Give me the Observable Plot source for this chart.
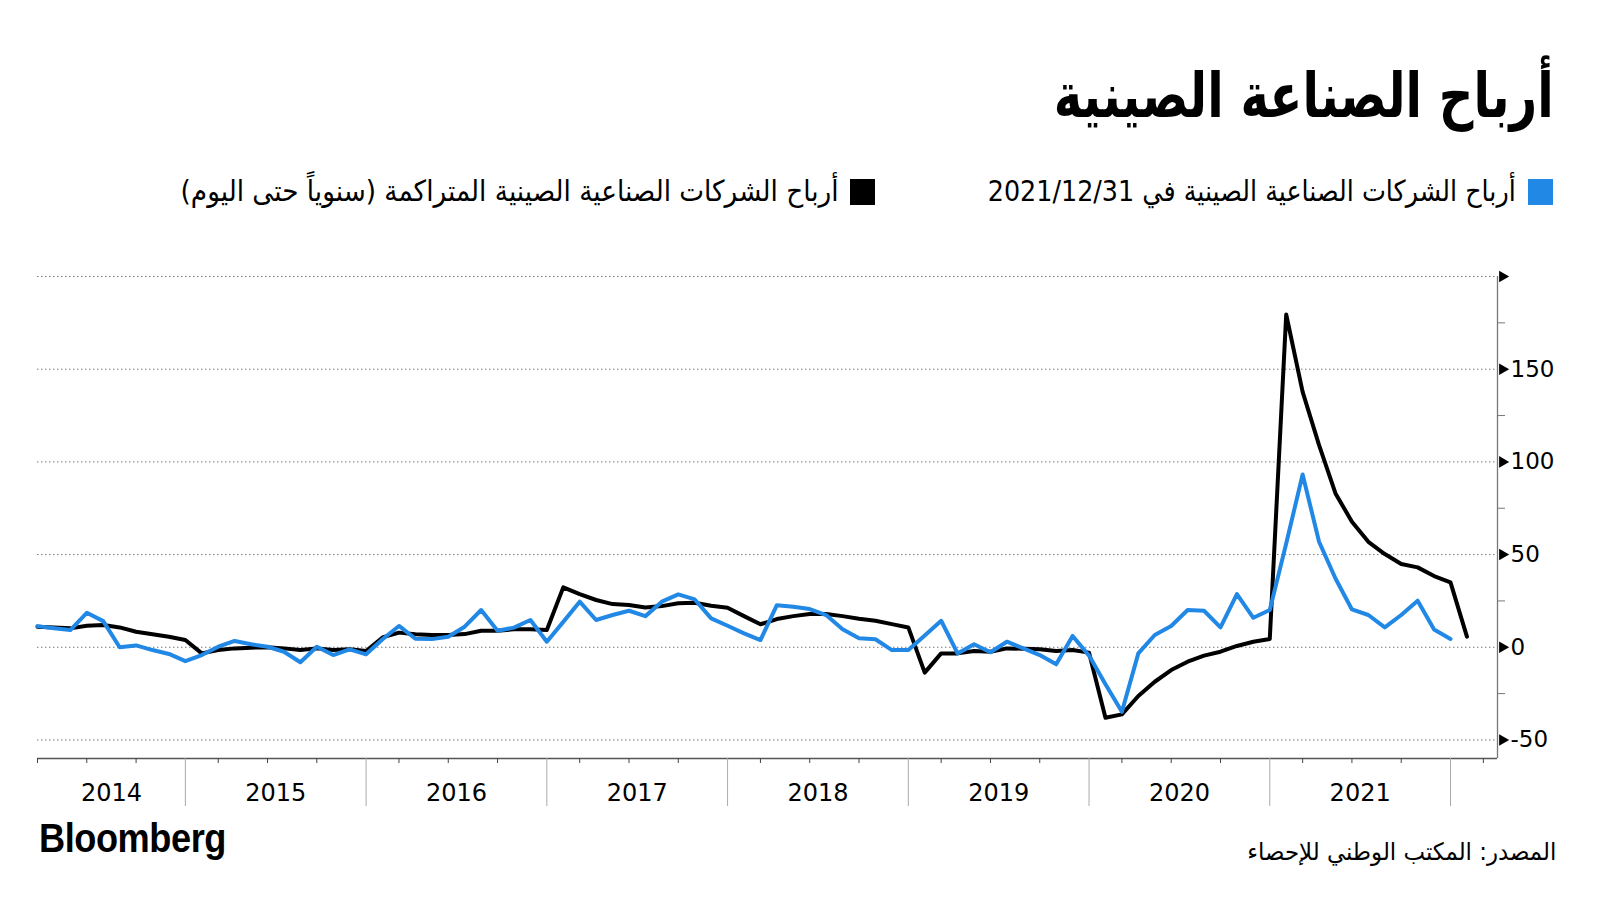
<!DOCTYPE html>
<html><head><meta charset="utf-8">
<script src="https://cdn.jsdelivr.net/npm/d3@7"></script>
<script src="https://cdn.jsdelivr.net/npm/@observablehq/plot@0.6"></script>
<style>
body{margin:0;background:#fff;}
#page{position:relative;width:1600px;height:900px;overflow:hidden;background:#fff;}
.t{position:absolute;white-space:nowrap;display:inline-block;color:#000;}
.ar{direction:rtl;font-family:"DejaVu Sans",sans-serif;transform-origin:right center;}
.sw{position:absolute;}
#chart svg{position:absolute;left:0;top:240px;}
</style></head>
<body><div id="page">
<div id="title" class="t ar" style="right:46px;font-size:62px;font-weight:bold;line-height:76px;top:58px;">أرباح الصناعة الصينية</div>
<div class="sw" style="left:1528px;top:179px;width:25px;height:26px;background:#2188e6;"></div>
<div id="leg1" class="t ar" style="right:84px;font-size:29px;line-height:38px;top:172px;">أرباح الشركات الصناعية الصينية في 2021/12/31</div>
<div class="sw" style="left:850px;top:179px;width:25px;height:26px;background:#000;"></div>
<div id="leg2" class="t ar" style="right:761px;font-size:29px;line-height:38px;top:172px;">أرباح الشركات الصناعية الصينية المتراكمة (سنوياً حتى اليوم)</div>
<div id="chart"></div>
<div id="logo" class="t" style="left:39px;top:815px;font-family:'Liberation Sans',Arial,sans-serif;font-weight:bold;font-size:41px;line-height:46px;transform-origin:left center;letter-spacing:-0.5px;">Bloomberg</div>
<div id="src" class="t ar" style="right:44px;font-size:24px;line-height:32px;top:836px;">المصدر: المكتب الوطني للإحصاء</div>
</div>
<script>
// ---- data (index 0 = Mar 2014; Jan-Feb combined reported as one point) ----
const startYear = 2014;
const years = [2014, 2015, 2016, 2017, 2018, 2019, 2020, 2021];
// Monthly YoY growth of industrial profits (%), Mar 2014 .. Dec 2021
const blue2014 = [11.4, 10.3, 9.3, 18.6, 14.1, 0.0, 1.0, -1.5, -3.6, -7.5];
const blue2015 = [-4.2, 0.3, 3.4, 1.6, 0.3, -2.4, -8.1, 0.3, -4.2, -1.1, -3.8];
const blue2016 = [4.3, 11.5, 4.6, 4.4, 5.7, 11.1, 20.1, 8.9, 10.6, 14.7, 3.0];
const blue2017 = [13.7, 24.6, 14.7, 17.4, 19.7, 16.8, 24.6, 28.5, 25.8, 15.6, 11.6];
const blue2018 = [7.5, 3.9, 22.7, 21.9, 20.6, 17.4, 9.7, 4.8, 4.3, -1.5, -1.5];
const blue2019 = [6.4, 14.3, -3.3, 1.6, -2.7, 3.0, -0.6, -4.2, -9.2, 6.1, -4.5];
const blue2020 = [-20.0, -34.8, -3.3, 6.6, 11.5, 20.1, 19.7, 10.7, 28.7, 15.9, 20.1];
const blue2021 = [56.0, 93.2, 56.9, 37.1, 20.4, 17.4, 10.7, 17.4, 25.1, 9.6, 4.5];
// Cumulative YTD YoY growth (%), Mar 2014 .. Jan-Feb 2022
const black2014 = [11.1, 10.7, 10.2, 11.6, 12.0, 10.7, 8.4, 7.0, 5.7, 3.9];
const black2015 = [-3.3, -1.5, -0.6, -0.2, 0.0, -0.6, -1.5, -0.6, -1.5, -1.1, -2.0];
const black2016 = [5.3, 7.9, 7.0, 6.6, 6.6, 7.1, 8.9, 8.9, 9.7, 9.7, 9.3];
const black2017 = [32.3, 28.7, 25.5, 23.3, 22.8, 21.5, 22.2, 23.7, 24.0, 22.4, 21.3];
const black2018 = [16.8, 12.4, 15.2, 16.8, 17.9, 17.9, 16.8, 15.4, 14.3, 12.5, 10.7];
const black2019 = [-13.7, -3.3, -3.3, -2.0, -2.4, -0.6, -0.8, -1.1, -2.0, -1.5, -2.9];
const black2020 = [-38.0, -36.2, -26.3, -18.6, -12.3, -7.8, -4.5, -2.4, 0.7, 3.0, 4.5];
const black2021 = [179.5, 137.8, 109.0, 83.0, 67.7, 56.9, 50.3, 44.9, 43.1, 38.4, 35.0];
const black2022 = [5.7];
const yLabelTicks = [-50, 0, 50, 100, 150, 200];
const yMinorTicks = [-25, 25, 75, 125, 175];
const quarterMonths = [3, 6, 9];

// ---- build tables ----
const idx = (y, m) => 11 * (y - startYear) + m - 3; // period index (Jan-Feb merged)
const blueValues = [].concat(blue2014, blue2015, blue2016, blue2017, blue2018, blue2019, blue2020, blue2021);
const blackValues = [].concat(black2014, black2015, black2016, black2017, black2018, black2019, black2020, black2021, black2022);
const blue = blueValues.map((v, i) => ({i, v}));
const black = blackValues.map((v, i) => ({i, v}));
const xMax = idx(2022, 3) + 0.86;
const minorX = [];
for (let y = startYear; y <= 2022; y++) for (const m of quarterMonths) { const k = idx(y, m); if (k >= 0 && k <= xMax) minorX.push(k); }
const sepX = years.map(y => idx(y, 12));
const yearMid = y => (Math.max(0, idx(y - 1, 12)) + idx(y, 12)) / 2;

const chart = Plot.plot({
  width: 1600, height: 580,
  marginLeft: 37, marginRight: 103, marginTop: 36, marginBottom: 62,
  x: {domain: [0, xMax], axis: null, label: null},
  y: {domain: [-60, 200], axis: null, label: null},
  style: {fontFamily: "DejaVu Sans, sans-serif", fontSize: "23px", color: "#000", background: "transparent", overflow: "visible"},
  marks: [
    Plot.gridY(yLabelTicks, {stroke: "#7a7a7a", strokeOpacity: 1, strokeDasharray: "1.5,2.5", strokeWidth: 1}),
    Plot.ruleX([xMax], {y1: -60, y2: 200, stroke: "#777", strokeWidth: 1.3}),
    Plot.ruleY([-60], {stroke: "#555", strokeWidth: 1.6}),
    Plot.axisY({anchor: "right", ticks: yMinorTicks, tickSize: 7, tickFormat: () => "", stroke: "#777", label: null}),
    Plot.dot(yLabelTicks, {x: xMax, y: d => d, symbol: "triangle", rotate: 90, r: 4.3, fill: "#000", dx: 5}),
    Plot.text(yLabelTicks.filter(d => d !== 200), {x: xMax, y: d => d, text: d => String(d), dx: 13, textAnchor: "start", fontSize: 23}),
    Plot.axisX({ticks: minorX, tickSize: 5, tickFormat: () => "", stroke: "#444", label: null}),
    Plot.axisX({ticks: sepX, tickSize: 48, tickFormat: () => "", stroke: "#aaa", label: null}),
    Plot.text(years, {x: yearMid, y: -60, dy: 35, text: d => String(d), fontSize: 24}),
    Plot.line(black, {x: "i", y: "v", stroke: "#000", strokeWidth: 4}),
    Plot.line(blue, {x: "i", y: "v", stroke: "#2188e6", strokeWidth: 4})
  ]
});
document.getElementById("chart").append(chart);

function fit(id, w) {
  const el = document.getElementById(id);
  const cur = el.getBoundingClientRect().width;
  el.style.transform = `scaleX(${w / cur})`;
}
fit("title", 500);
fit("leg1", 528);
fit("leg2", 658);
fit("src", 309);
fit("logo", 187);
</script>
</body></html>
